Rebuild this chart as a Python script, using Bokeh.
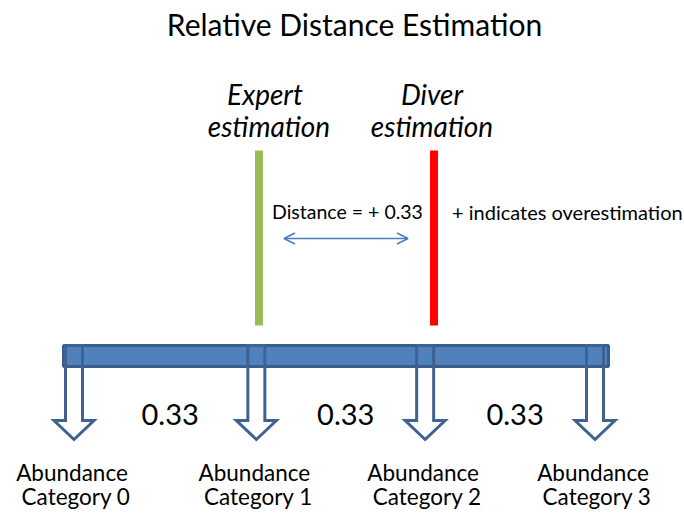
from bokeh.plotting import figure
from bokeh.models import Range1d, Label, Arrow, OpenHead
from bokeh.core.properties import value
from bokeh.embed import file_html
from bokeh.resources import INLINE

# ---- data ----
categories = ["Abundance\nCategory 0", "Abundance\nCategory 1", "Abundance\nCategory 2", "Abundance\nCategory 3"]
category_pos = [0.0, 0.35, 0.674, 1.0]          # relative position of each abundance category
gap_labels = ["0.33", "0.33", "0.33"]
expert_estimate = 0.355
diver_estimate = 0.691
distance_label = "Distance = + 0.33"
note_label = "+ indicates overestimation"
title_text = "Relative Distance Estimation"

# ---- layout ----
W, H = 684, 515
PX = 1.0 / 521.0                                  # one pixel in data units along x
x0 = -73.5 * PX
p = figure(width=W, height=H, output_backend="svg", toolbar_location=None,
           x_range=Range1d(x0, x0 + W * PX), y_range=Range1d(H, 0),
           min_border=0, outline_line_color=None)
p.axis.visible = False
p.grid.visible = False
p.background_fill_color = "white"
p.border_fill_color = "white"

FONT = "Lato"

# title
p.add_layout(Label(x=354, y=23, x_units="screen", y_units="data", text=title_text,
                   text_font=FONT, text_font_size="30px", text_align="center",
                   text_baseline="middle", text_color="black"))

# estimation bars
p.segment(x0=[expert_estimate], x1=[expert_estimate], y0=[150], y1=[325],
          line_color="#9BBB59", line_width=8, line_cap="butt")
p.segment(x0=[diver_estimate], x1=[diver_estimate], y0=[150], y1=[325],
          line_color="#FF0000", line_width=8, line_cap="butt")

for xv, word, off1, off2 in [(expert_estimate, "Expert", 6, 10), (diver_estimate, "Diver", -2, -2)]:
    p.text(x=[xv], y=[93], text=[word], x_offset=off1,
           text_font=value(FONT), text_font_style="italic", text_font_size="28px",
           text_align="center", text_baseline="middle", text_color="black")
    p.text(x=[xv], y=[125], text=["estimation"], x_offset=off2,
           text_font=value(FONT), text_font_style="italic", text_font_size="28px",
           text_align="center", text_baseline="middle", text_color="black")

# distance annotation
mid = (expert_estimate + diver_estimate) / 2
p.text(x=[mid], y=[211], text=[distance_label], x_offset=1,
       text_font=value(FONT), text_font_size="19.5px", text_align="center",
       text_baseline="middle", text_color="black")
p.text(x=[diver_estimate], y=[211], text=[note_label], x_offset=18,
       text_font=value(FONT), text_font_size="20px", text_align="left",
       text_baseline="middle", text_color="black")
p.add_layout(Arrow(start=OpenHead(size=11, line_color="#4A7EBB", line_width=1.5),
                   end=OpenHead(size=11, line_color="#4A7EBB", line_width=1.5),
                   x_start=expert_estimate + 25 * PX, x_end=diver_estimate - 26 * PX,
                   y_start=238, y_end=238, line_color="#4A7EBB", line_width=1.5))

# scale bar
p.quad(left=[category_pos[0] - 10.5 * PX], right=[category_pos[-1] + 13.5 * PX],
       top=[345], bottom=[366], fill_color="#4F81BD", line_color="#3A5E8C", line_width=3)

# block arrows
xs, ys = [], []
for c in category_pos:
    sw, hw = 8.5 * PX, 20 * PX
    xs.append([c - sw, c - sw, c - hw, c, c + hw, c + sw, c + sw])
    ys.append([345, 420, 420, 439, 420, 420, 345])
p.patches(xs=xs, ys=ys, fill_color=None, line_color="#3F6290", line_width=3, line_join="miter")

# gap labels
mids = [(a + b) / 2 for a, b in zip(category_pos[:-1], category_pos[1:])]
p.text(x=mids, y=[413.5] * 3, text=gap_labels, x_offset=5,
       text_font=value(FONT), text_font_size="29px", text_align="center",
       text_baseline="middle", text_color="black")

# category labels
line1 = [c.split("\n")[0] for c in categories]
line2 = [c.split("\n")[1] for c in categories]
p.text(x=category_pos, y=[472] * 4, text=line1, x_offset=-2,
       text_font=value(FONT), text_font_size="22.5px", text_align="center",
       text_baseline="middle", text_color="black")
p.text(x=category_pos, y=[496] * 4, text=line2, x_offset=2,
       text_font=value(FONT), text_font_size="22.5px", text_align="center",
       text_baseline="middle", text_color="black")

open("out.html", "w").write(file_html(p, INLINE))
